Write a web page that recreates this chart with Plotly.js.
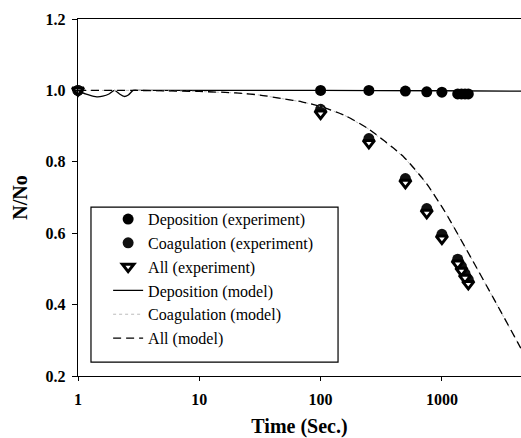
<!DOCTYPE html>
<html>
<head>
<meta charset="utf-8">
<script src="https://cdn.plot.ly/plotly-3.0.1.min.js"></script>
<style>html,body{margin:0;padding:0;background:#fff;}#chart{width:521px;height:438px;}</style>
</head>
<body>
<div id="chart"></div>
<script>
// Experimental data (time in seconds, N/No)
const expTime = [1, 100, 250, 500, 750, 1000, 1350, 1450, 1550, 1650];
const depositionExp = [1.0, 1.0, 1.0, 0.998, 0.996, 0.995, 0.99, 0.99, 0.99, 0.99];
const coagulationExp = [1.0, 0.947, 0.865, 0.753, 0.669, 0.597, 0.527, 0.507, 0.487, 0.47];
const allExp = [1.0, 0.935, 0.853, 0.741, 0.657, 0.585, 0.515, 0.495, 0.475, 0.458];

// Model curves
const depositionModelTime = [1, 1.15, 1.3, 1.45, 1.6, 1.8, 2.0, 2.2, 2.4, 2.6, 2.85, 3.2, 10, 100, 1000, 4570];
const depositionModel = [1.0, 0.99, 0.985, 0.982, 0.984, 0.99, 1.0, 0.99, 0.983, 0.987, 1.0, 1.0, 1.0, 1.0, 0.999, 0.998];
const modelTime = [1, 3, 10, 20, 31.6, 50, 70, 100, 158, 246, 487, 750, 1060, 1800, 2660, 4200, 4570];
const coagulationModel = [1.0, 1.0, 0.997, 0.993, 0.987, 0.976, 0.968, 0.955, 0.93, 0.893, 0.813, 0.738, 0.66, 0.522, 0.418, 0.295, 0.272];
const allModel = [1.0, 1.0, 0.997, 0.993, 0.987, 0.976, 0.968, 0.955, 0.93, 0.893, 0.813, 0.738, 0.66, 0.522, 0.418, 0.295, 0.272];

const xTickVals = [1, 10, 100, 1000];
const xTickText = ['1', '10', '100', '1000'];

const serif = 'Liberation Serif, Times New Roman, serif';

const traces = [
  {x: expTime, y: depositionExp, name: 'Deposition (experiment)', mode: 'markers', type: 'scatter',
   marker: {symbol: 'circle', size: 11, color: '#000'}, cliponaxis: false},
  {x: expTime, y: coagulationExp, name: 'Coagulation (experiment)', mode: 'markers', type: 'scatter',
   marker: {symbol: 'circle', size: 11, color: '#111'}, cliponaxis: false},
  {x: expTime, y: allExp, name: 'All (experiment)', mode: 'markers', type: 'scatter',
   marker: {symbol: 'triangle-down', size: 10, color: '#fff', line: {color: '#000', width: 3}}, cliponaxis: false},
  {x: depositionModelTime, y: depositionModel, name: 'Deposition (model)', mode: 'lines', type: 'scatter',
   line: {color: '#000', width: 1.3, shape: 'spline', smoothing: 0.6}},
  {x: modelTime, y: coagulationModel, name: 'Coagulation (model)', mode: 'lines', type: 'scatter',
   line: {color: '#bbb', width: 1, dash: 'dot'}},
  {x: modelTime, y: allModel, name: 'All (model)', mode: 'lines', type: 'scatter',
   line: {color: '#000', width: 1.3, dash: '8px,5px', shape: 'spline', smoothing: 0.6}}
];

const layout = {
  width: 521, height: 438,
  margin: {l: 78, r: 0, t: 19, b: 62},
  paper_bgcolor: '#fff', plot_bgcolor: '#fff',
  showlegend: true,
  font: {family: serif, color: '#000'},
  xaxis: {
    type: 'log', range: [0, 3.652],
    tickvals: xTickVals, ticktext: xTickText,
    ticks: 'outside', ticklen: 4, tickcolor: '#000', ticklabelstandoff: 5,
    showline: true, linecolor: '#000', linewidth: 1.2, mirror: true,
    showgrid: false, zeroline: false,
    tickfont: {family: serif, size: 16, weight: 'bold', color: '#000'},
    title: {text: 'Time (Sec.)', font: {family: serif, size: 20, weight: 'bold', color: '#000'}, standoff: 12}
  },
  yaxis: {
    range: [0.2, 1.2], dtick: 0.2, tick0: 0.2, tickformat: '.1f',
    ticks: 'outside', ticklen: 5, tickcolor: '#000', ticklabelstandoff: 3,
    showline: true, linecolor: '#000', linewidth: 1.2,
    showgrid: false, zeroline: false,
    tickfont: {family: serif, size: 16, weight: 'bold', color: '#000'},
    title: {text: 'N/No', font: {family: serif, size: 20, weight: 'bold', color: '#000'}, standoff: 12}
  },
  legend: {
    x: 0.068, y: 0.487, xanchor: 'left', yanchor: 'top',
    bgcolor: 'rgba(0,0,0,0)', borderwidth: 0,
    font: {family: serif, size: 16, color: '#000'},
    tracegroupgap: 0
  },
  shapes: [{
    type: 'rect', xref: 'paper', yref: 'paper',
    x0: 0.0293, x1: 0.587, y0: 0.039, y1: 0.473,
    line: {color: '#000', width: 1.2}, fillcolor: 'rgba(0,0,0,0)', layer: 'below'
  }]
};

Plotly.newPlot('chart', traces, layout, {displayModeBar: false, staticPlot: true});
</script>
</body>
</html>
